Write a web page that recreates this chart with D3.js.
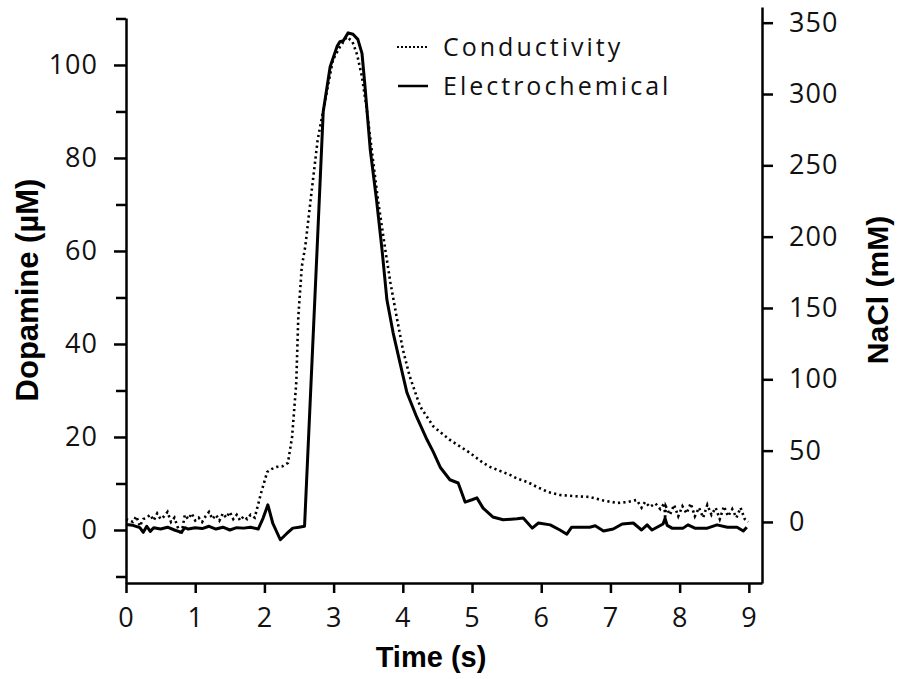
<!DOCTYPE html>
<html>
<head>
<meta charset="utf-8">
<script src="https://cdn.jsdelivr.net/npm/d3@7"></script>
<style>
  body { margin: 0; background: #fff; }
  svg { display: block; }
</style>
</head>
<body>
<div id="plot"></div>
<script>
// Electrochemical trace (dopamine, uM) - left axis
var echemTime = [0,0.1,0.2,0.25,0.3,0.35,0.4,0.5,0.6,0.7,0.8,0.85,0.9,1.0,1.1,1.2,1.3,1.4,1.5,1.6,1.7,1.8,
  1.91,1.98,2.05,2.12,2.23,2.32,2.41,2.5,2.58,2.76,2.85,2.95,3.05,3.09,3.14,3.21,3.28,3.35,3.41,3.45,3.53,
  3.62,3.7,3.77,3.86,3.96,4.06,4.2,4.35,4.44,4.54,4.68,4.8,4.9,5.0,5.07,5.16,5.3,5.45,5.65,5.74,5.87,5.96,
  6.13,6.27,6.37,6.44,6.7,6.78,6.9,7.04,7.17,7.33,7.45,7.53,7.6,7.76,7.79,7.82,7.89,8.05,8.12,8.22,8.4,
  8.54,8.69,8.83,8.92,8.97];
var echemValues = [1.2,1.0,0.5,-0.5,0.8,-0.3,0.5,0.2,0.6,0.0,-0.5,0.5,0.2,0.5,0.3,0.8,0.2,0.6,0.0,0.5,0.4,0.6,
  0.2,2.5,5.4,1.5,-2.1,-0.8,0.4,0.6,0.8,60,90,99.6,104,105,105.2,106.9,106.6,105.5,102.5,96,81.7,
  71,60.2,49.5,42.4,35.9,29.5,24.3,19.4,16.8,13.5,10.8,10.1,6,6.5,6.9,4.7,2.8,2.2,2.4,2.6,0.4,1.5,
  1.1,0,-0.9,0.6,0.6,0.9,-0.2,0.2,1.3,1.5,0,1.1,0,1.3,2.5,1.0,0.4,0.4,1.1,0.4,0.4,
  1.1,0.6,0.6,-0.2,0.6];

// Conductivity trace (NaCl, mM) - right axis
var condTime = [0,0.05,0.1,0.15,0.2,0.25,0.3,0.35,0.4,0.45,0.5,0.55,0.6,0.65,0.7,0.75,0.8,0.85,0.9,0.95,
  1.0,1.05,1.1,1.15,1.2,1.25,1.3,1.35,1.4,1.45,1.5,1.55,1.6,1.65,1.7,1.75,1.8,1.86,
  1.95,2.04,2.1,2.18,2.26,2.34,2.4,2.46,2.49,2.54,2.59,2.69,2.77,2.88,2.99,3.09,3.19,3.27,3.34,3.41,
  3.48,3.55,3.64,3.74,3.82,3.91,4.0,4.1,4.25,4.44,4.68,4.97,5.16,5.26,5.55,5.65,5.8,5.94,6.1,6.27,
  6.5,6.7,6.9,7.1,7.25,7.38,7.45,7.5,7.57,7.65,7.72,7.78,7.79,7.8,7.86,7.92,7.98,8.04,8.1,8.16,
  8.22,8.28,8.34,8.4,8.46,8.52,8.58,8.64,8.7,8.76,8.82,8.88,8.94,8.99];
var condValues = [2,1,0,4,-3,2,3,5,1,6,2,4,7,0,3,-4,-9,5,2,6,
  1,3,0,4,7,2,5,1,6,3,7,2,5,1,4,2,5,3,
  20,35,37,38.6,39,41.4,59.6,97.5,144,179,193,235,268,296,324,333,340,337,327.5,312,
  289,261,226,193,168,144,121,102,81,67,57.5,48.4,41.4,38.6,33,30.5,28,24.5,21,18.9,
  18,17.5,15,13.3,14,15.4,10,14,10.5,13,9,13.3,2,11,5,12,4,11,6,13,
  4,10,3,12,5,10,2,11,4,9,3,10,2,0];

var timeTicks = [0,1,2,3,4,5,6,7,8,9];
var dopamineTicks = [-10,0,10,20,30,40,50,60,70,80,90,100,110];
var naclTicks = [0,50,100,150,200,250,300,350];
var legendLabels = ["Conductivity", "Electrochemical"];

var width = 901, height = 679;
var svg = d3.select("#plot").append("svg")
    .attr("width", width)
    .attr("height", height);

var x = d3.scaleLinear().domain([0, 9.19]).range([126, 762]);
var yL = d3.scaleLinear().domain([-11.4, 110.1]).range([583, 18]);
var yR = d3.scaleLinear().domain([-42.8, 361]).range([583, 7]);

var tickFont = "'Open Sans', 'DejaVu Sans', sans-serif";

function styleAxis(g) {
    g.attr("font-family", tickFont).attr("font-size", 27);
    g.select(".domain").attr("stroke", "#000").attr("stroke-width", 2.5);
    g.selectAll(".tick line").attr("stroke", "#000").attr("stroke-width", 2.5);
    g.selectAll(".tick text").attr("fill", "#111").style("letter-spacing", "1px");
}

// bottom axis
svg.append("g")
    .attr("transform", "translate(0,583)")
    .call(d3.axisBottom(x).tickValues(timeTicks).tickSizeOuter(0).tickSizeInner(10).tickPadding(15))
    .call(styleAxis);

// left axis, labels every 20
svg.append("g")
    .attr("transform", "translate(126,0)")
    .call(d3.axisLeft(yL).tickValues(dopamineTicks).tickSizeOuter(0).tickSizeInner(12).tickPadding(16)
        .tickFormat(function(d){ return (d % 20 === 0 && d >= 0 && d <= 100) ? d : ""; }))
    .call(styleAxis)
    .call(function(g){
        g.selectAll(".tick").filter(function(d){ return d % 20 !== 0 || d < 0 || d > 100; })
            .select("line").attr("x2", -10);
    });

// right axis
svg.append("g")
    .attr("transform", "translate(762,0)")
    .call(d3.axisRight(yR).tickValues(naclTicks).tickSizeOuter(0).tickSizeInner(11).tickPadding(16))
    .call(styleAxis);

// lines
var lineL = d3.line()
    .x(function(d, i){ return x(echemTime[i]); })
    .y(function(d){ return yL(d); });
var lineR = d3.line()
    .x(function(d, i){ return x(condTime[i]); })
    .y(function(d){ return yR(d); });

svg.append("path")
    .datum(condValues)
    .attr("d", lineR)
    .attr("fill", "none")
    .attr("stroke", "#000")
    .attr("stroke-width", 2.6)
    .attr("stroke-dasharray", "2.2,3.2");

svg.append("path")
    .datum(echemValues)
    .attr("d", lineL)
    .attr("fill", "none")
    .attr("stroke", "#000")
    .attr("stroke-width", 3)
    .attr("stroke-linejoin", "round");

// axis titles
svg.append("text")
    .attr("transform", "translate(38,290) rotate(-90)")
    .attr("text-anchor", "middle")
    .attr("font-family", "'Liberation Sans', Arial, sans-serif")
    .attr("font-weight", "bold")
    .attr("font-size", 31)
    .text("Dopamine (\u00b5M)");

svg.append("text")
    .attr("transform", "translate(888,290) rotate(-90)")
    .attr("text-anchor", "middle")
    .attr("font-family", "'Liberation Sans', Arial, sans-serif")
    .attr("font-weight", "bold")
    .attr("font-size", 30)
    .text("NaCl (mM)");

svg.append("text")
    .attr("x", 431)
    .attr("y", 667)
    .attr("text-anchor", "middle")
    .attr("font-family", "'Liberation Sans', Arial, sans-serif")
    .attr("font-weight", "bold")
    .attr("font-size", 29)
    .text("Time (s)");

// legend
var legend = svg.append("g");
legend.append("line")
    .attr("x1", 397).attr("x2", 427).attr("y1", 47).attr("y2", 47)
    .attr("stroke", "#000").attr("stroke-width", 2).attr("stroke-dasharray", "2,2");
legend.append("line")
    .attr("x1", 398).attr("x2", 428).attr("y1", 86).attr("y2", 86)
    .attr("stroke", "#000").attr("stroke-width", 2.5);
legend.selectAll("text.lbl")
    .data(legendLabels)
    .enter()
    .append("text")
    .attr("class", "lbl")
    .attr("x", 443)
    .attr("y", function(d, i){ return 56 + i * 39; })
    .attr("font-family", tickFont)
    .attr("font-size", 25)
    .style("letter-spacing", "3px")
    .attr("fill", "#111")
    .text(function(d){ return d; });
</script>
</body>
</html>
